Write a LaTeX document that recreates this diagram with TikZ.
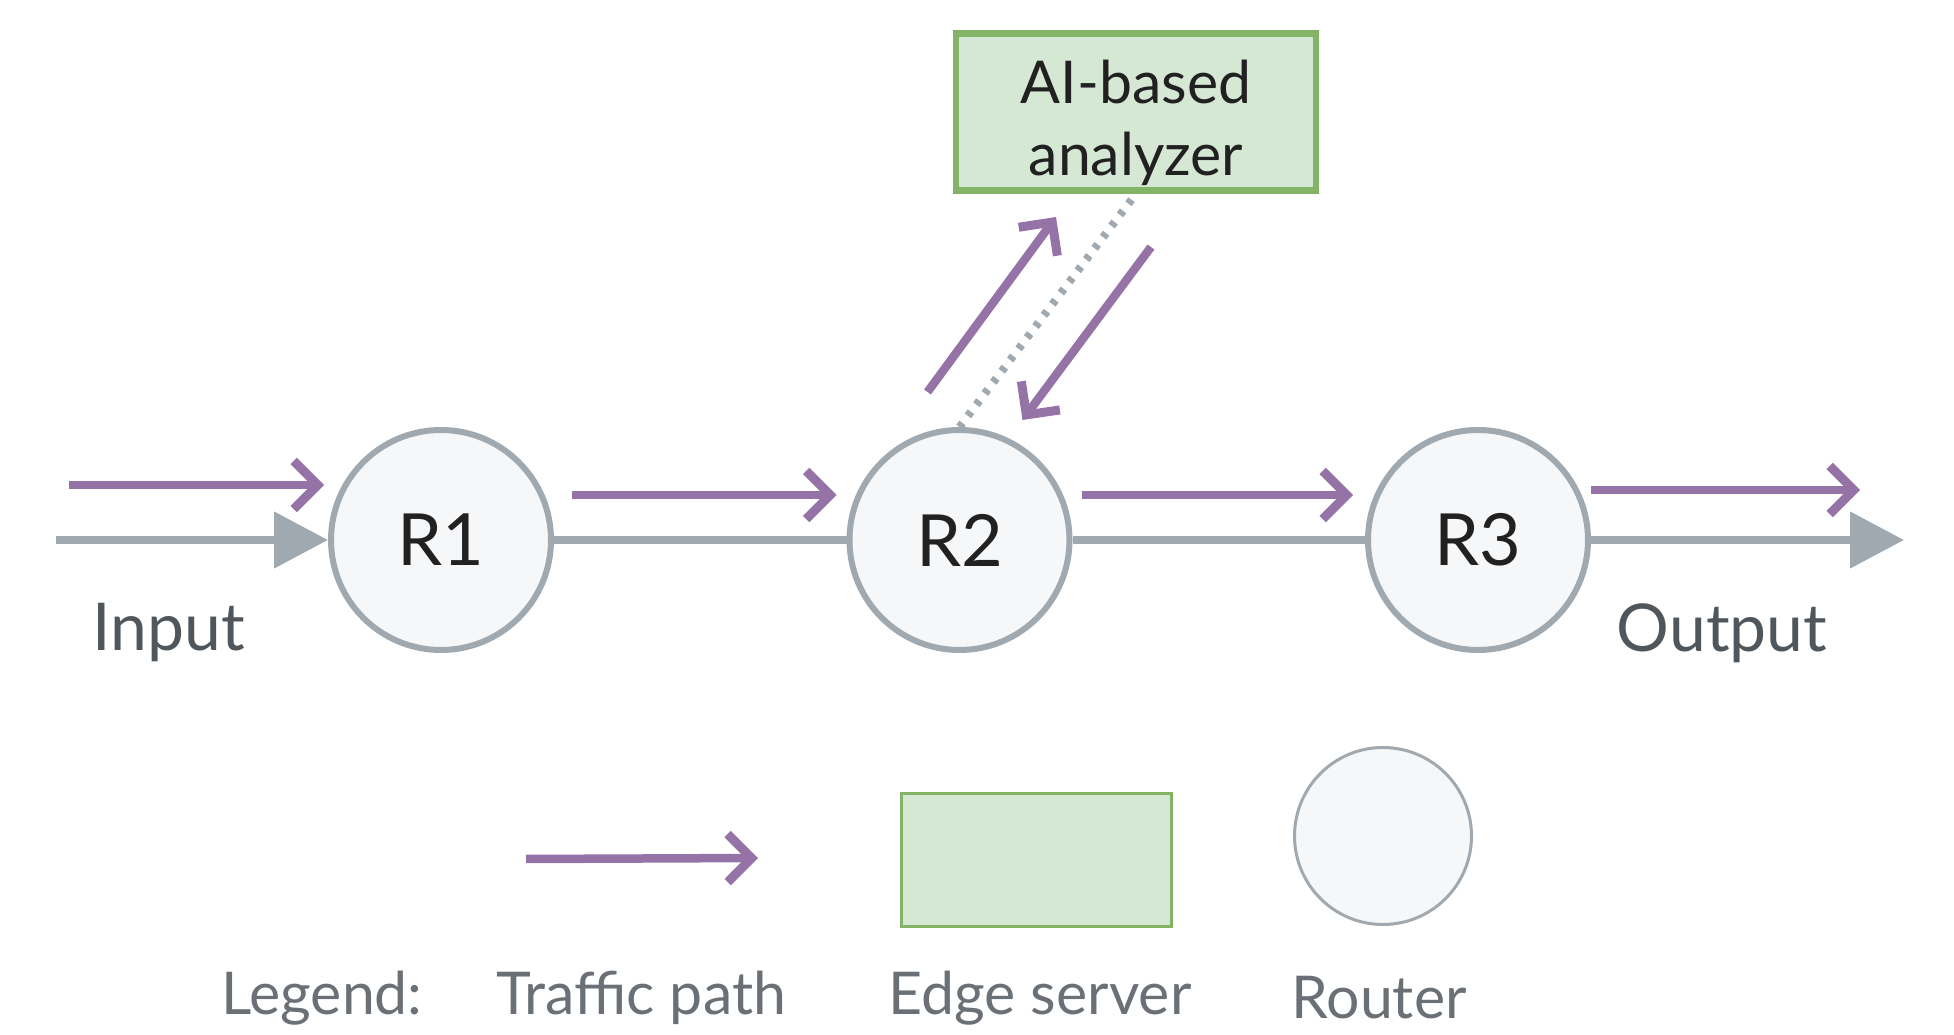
\documentclass[tikz,border=0pt]{standalone}
\usepackage{fontspec}
\setmainfont{Lato}
\usepackage{tikz}
\usetikzlibrary{calc,arrows.meta,positioning}

\definecolor{flowpurple}{HTML}{9673A6}
\definecolor{linkgrey}{HTML}{A0A8B0}
\definecolor{routerfill}{HTML}{F6F7F9}
\definecolor{serverfill}{HTML}{D5E8D4}
\definecolor{serverline}{HTML}{82B366}
\definecolor{labelgrey}{HTML}{50575C}

\begin{document}
\begin{tikzpicture}[
    x=1pt, y=1pt,
    router/.style={circle, draw=linkgrey, fill=routerfill, line width=6pt, minimum size=220pt, inner sep=0pt,
        text=black!87, font=\fontsize{72}{86}\selectfont},
    server/.style={rectangle, draw=serverline, fill=serverfill, line width=6.5pt, minimum width=360pt, minimum height=157pt,
        align=center, text=black!87, font=\fontsize{59}{72}\selectfont},
    label/.style={text=labelgrey, font=\fontsize{66}{80}\selectfont},
    legendtext/.style={text=labelgrey!85, font=\fontsize{59}{70}\selectfont},
    link/.style={draw=linkgrey, line width=8pt},
    linkarrow/.style={link, -{Triangle[length=54pt, width=55pt]}},
    flow/.style={draw=flowpurple, line width=8.5pt, -{Straight Barb[length=24pt, width=48pt, line width=9pt]}},
    probe/.style={draw=linkgrey, line width=8pt, dash pattern=on 5pt off 9pt}
]
    \useasboundingbox (0,0) rectangle (1954,1034);

    % routers and edge server
    \node[router] (r1) at (441,494) {R1};
    \node[router] (r2) at (959.5,494) {R2};
    \node[router] (r3) at (1478,494) {R3};
    \node[server] (ai) at (1136,922) {\rule{0pt}{66pt}AI-based\\analyzer};

    \coordinate (src) at (56,494);
    \coordinate (dst) at (1904,494);

    % physical links
    \draw[linkarrow] (src) -- (r1);
    \draw[link] (r1) -- (r2);
    \draw[link] (r2) -- (r3);
    \draw[linkarrow] (r3) -- (dst);
    \draw[probe] (r2.north) -- (ai.south);

    % traffic path
    \draw[flow] ($(src)+(13,55)$) -- ($(r1.west)+(-4,55)$);
    \draw[flow] ($(r1.east)+(18,45)$) -- ($(r2.west)+(-10,45)$);
    \draw[flow] ($(r2.east)+(9,45)$) -- ($(r3.west)+(-12,45)$);
    \draw[flow] ($(r3.east)+(0,50)$) -- ($(dst)+(-44,50)$);
    \draw[flow] ($(r2)+(-32,148)$) -- ($(ai)+(-80,-105)$);
    \draw[flow] ($(ai)+(15,-135)$) -- ($(r2)+(63,120)$);

    \node[label] (input) at (169,401) {Input};
    \node[label] (output) at (1722,401) {Output};

    % legend
    \coordinate (lg1) at (526,175);
    \coordinate (lg2) at (758,176);
    \draw[flow] (lg1) -- (lg2);
    \node[server, line width=3pt, minimum width=270pt, minimum height=133pt] (lgserver) at (1036,174) {};
    \node[router, line width=3pt, minimum size=177pt] (lgrouter) at (1383,198) {};
    \node[legendtext] (lgtitle) at (322,36) {Legend:};
    \node[legendtext] (lgflow) at (641,36) {Traffic path};
    \node[legendtext] (lgedge) at (1040,36) {Edge server};
    \node[legendtext] (lgrout) at (1379,36) {Router};
\end{tikzpicture}
\end{document}
